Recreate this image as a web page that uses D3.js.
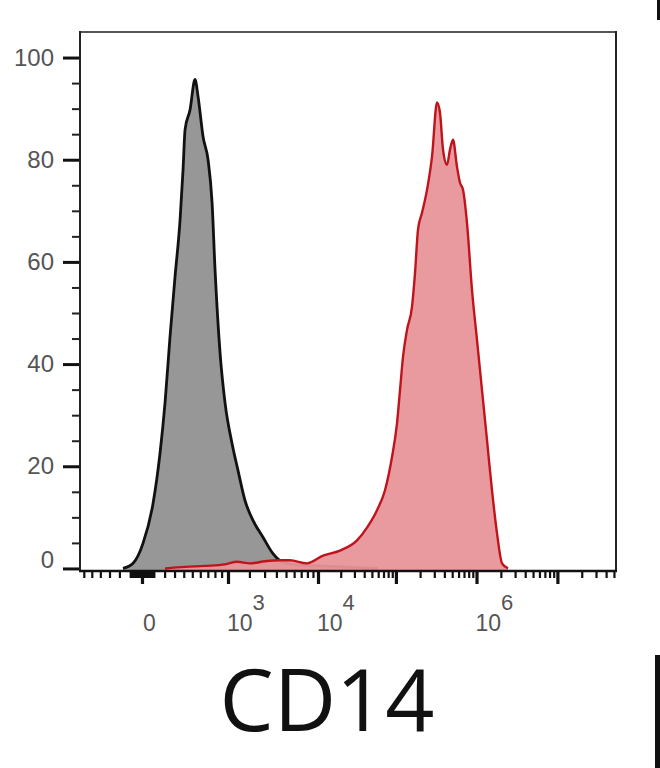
<!DOCTYPE html>
<html>
<head>
<meta charset="utf-8">
<script src="https://cdn.jsdelivr.net/npm/d3@7"></script>
<style>
  body { margin: 0; background: #fff; }
  svg { display: block; }
</style>
</head>
<body>
<div id="chart"></div>
<script>
// control (gray) histogram, x in fluorescence units, y in % of max
const grayX = [-166, -75, 8, 93, 156, 204, 253, 305, 359, 392,
  415, 473, 533, 571, 636, 703, 759, 802, 876, 953,
  1157, 1417, 1760, 2211, 2881, 3690, 4668, 5850, 14480, 40900, 60000];
const grayY = [0, 1.0, 4.9, 12.7, 22.5, 32.4, 45.3, 57.1, 68.2, 78.0,
  85.9, 89.8, 95.7, 92.4, 84.5, 80.0, 71.6, 58.4, 42.2, 32.4,
  24.5, 19.2, 13.3, 9.4, 6.1, 2.9, 1.2, 0.8, 0.4, 0.1, 0];

// CD14 stained (red) histogram
const redX = [204, 415, 662, 953, 1372, 2034, 3031, 4355, 5471, 7929,
  11682, 19570, 32380, 43360, 57960, 73030, 89360, 103200, 112500, 122600,
  137500, 158600, 172900, 188400, 211200, 243700, 281100, 324200, 353100, 384700,
  431200, 469700, 511700, 573500, 624700, 680500, 762600, 879400, 1014200, 1169400,
  1348000, 1554000, 1792000, 2067000, 2452000];
const redY = [0, 0.3, 0.5, 0.8, 1.3, 1.0, 1.4, 1.6, 1.6, 1.0,
  2.5, 3.5, 5.5, 8.0, 11.4, 15.3, 21.8, 28.4, 34.9, 41.4,
  46.7, 51.2, 57.8, 66.3, 69.6, 74.1, 80.6, 91.2, 89.2, 82.0,
  79.0, 82.0, 83.9, 78.6, 75.5, 74.1, 67.6, 54.5, 44.7, 34.9,
  25.1, 15.3, 6.9, 1.0, 0];

// axis ticks
const yMajor = [0, 20, 40, 60, 80, 100];
const xMajor = [0, 1e3, 1e4, 1e5, 1e6, 1e7];
const xLabels = [
  { v: 0, base: "0", exp: "" },
  { v: 1e3, base: "10", exp: "3" },
  { v: 1e4, base: "10", exp: "4" },
  { v: 1e6, base: "10", exp: "6" }
];
const axisTitle = "CD14";

const width = 660, height = 768;
const plot = { left: 80, right: 616, top: 32, bottom: 571 };

const svg = d3.select("#chart")
  .append("svg")
  .attr("width", width)
  .attr("height", height);

// biexponential-like display: piecewise symlog
const x = d3.scaleSymlog()
  .constant(1000)
  .domain([-650, 0, 1e3, 1e4, 5.3e7])
  .range([plot.left, 142, 228, 318, plot.right]);

const y = d3.scaleLinear()
  .domain([-0.5, 105])
  .range([plot.bottom, plot.top]);

const area = d3.area()
  .x(d => x(d[0]))
  .y0(y(-0.5))
  .y1(d => y(d[1]))
  .curve(d3.curveMonotoneX);

const line = d3.line()
  .x(d => x(d[0]))
  .y(d => y(d[1]))
  .curve(d3.curveMonotoneX);

const grayData = d3.zip(grayX, grayY);
const redData = d3.zip(redX, redY);

svg.append("path")
  .datum(grayData)
  .attr("d", area)
  .attr("fill", "#979797");
svg.append("path")
  .datum(grayData)
  .attr("d", line)
  .attr("fill", "none")
  .attr("stroke", "#111")
  .attr("stroke-width", 2.8)
  .attr("stroke-linejoin", "round");

svg.append("path")
  .datum(redData)
  .attr("d", area)
  .attr("fill", "#e8959a")
  .attr("fill-opacity", 0.95);
svg.append("path")
  .datum(redData)
  .attr("d", line)
  .attr("fill", "none")
  .attr("stroke", "#c0141c")
  .attr("stroke-width", 2.4)
  .attr("stroke-linejoin", "round");

// minor x ticks
const xMinor = [];
d3.range(-600, 0, 100).forEach(v => xMinor.push(v));
d3.range(-90, 0, 10).forEach(v => xMinor.push(v));
d3.range(10, 100, 10).forEach(v => xMinor.push(v));
d3.range(100, 1000, 100).forEach(v => xMinor.push(v));
[1e3, 1e4, 1e5, 1e6].forEach(p => d3.range(2, 10).forEach(m => xMinor.push(m * p)));
d3.range(2, 6).forEach(m => xMinor.push(m * 1e7));

const xMinorAxis = svg.append("g")
  .attr("transform", `translate(0, ${plot.bottom})`)
  .call(d3.axisBottom(x).tickValues(xMinor).tickSize(7).tickFormat(""));
xMinorAxis.select(".domain").remove();
xMinorAxis.selectAll("line").attr("stroke", "#111").attr("stroke-width", 2.2);

const xMajorAxis = svg.append("g")
  .attr("transform", `translate(0, ${plot.bottom})`)
  .call(d3.axisBottom(x).tickValues(xMajor).tickSize(13).tickFormat(""));
xMajorAxis.select(".domain").remove();
xMajorAxis.selectAll("line").attr("stroke", "#111").attr("stroke-width", 3.2);

// x tick labels with superscripts
const xl = svg.append("g")
  .attr("font-family", "Liberation Sans, Arial, sans-serif")
  .attr("fill", "#555");
xLabels.forEach(d => {
  const t = xl.append("text")
    .attr("x", x(d.v) + (d.exp ? -1 : 1))
    .attr("y", 631)
    .attr("font-size", 23)
    .text(d.base);
  if (d.exp) {
    t.append("tspan")
      .attr("dy", -21)
      .attr("font-size", 22)
      .text(d.exp);
  }
});

// y axis
const yMinor = d3.range(5, 105, 5).filter(v => v % 20 !== 0);
const yMinorAxis = svg.append("g")
  .attr("transform", `translate(${plot.left}, 0)`)
  .call(d3.axisLeft(y).tickValues(yMinor).tickSize(8).tickFormat(""));
yMinorAxis.select(".domain").remove();
yMinorAxis.selectAll("line").attr("stroke", "#222").attr("stroke-width", 2);

const yMajorAxis = svg.append("g")
  .attr("transform", `translate(${plot.left}, 0)`)
  .call(d3.axisLeft(y).tickValues(yMajor).tickSize(17).tickPadding(9));
yMajorAxis.select(".domain").remove();
yMajorAxis.selectAll("line").attr("stroke", "#111").attr("stroke-width", 3);
yMajorAxis.selectAll("text")
  .attr("font-family", "Liberation Sans, Arial, sans-serif")
  .attr("font-size", 24)
  .attr("fill", "#555")
  .attr("dy", d => d === 0 ? "-0.05em" : "0.32em");

// frame
svg.append("line")
  .attr("x1", plot.left).attr("x2", plot.right).attr("y1", plot.top).attr("y2", plot.top)
  .attr("stroke", "#555").attr("stroke-width", 2);
svg.append("line")
  .attr("x1", plot.right).attr("x2", plot.right).attr("y1", plot.top - 1).attr("y2", plot.bottom + 1)
  .attr("stroke", "#222").attr("stroke-width", 2);
svg.append("line")
  .attr("x1", plot.left).attr("x2", plot.left).attr("y1", plot.top - 1).attr("y2", plot.bottom + 1)
  .attr("stroke", "#222").attr("stroke-width", 2);
svg.append("line")
  .attr("x1", plot.left - 1).attr("x2", plot.right + 1).attr("y1", plot.bottom).attr("y2", plot.bottom)
  .attr("stroke", "#111").attr("stroke-width", 2.5);

// axis title
svg.append("text")
  .attr("x", 327)
  .attr("y", 731)
  .attr("text-anchor", "middle")
  .attr("font-family", "Open Sans, Noto Sans, sans-serif")
  .attr("font-size", 86)
  .attr("fill", "#111")
  .text(axisTitle);

// edges of neighbouring panels
svg.append("rect")
  .attr("x", 657).attr("y", 0).attr("width", 3).attr("height", 20)
  .attr("fill", "#111");
svg.append("rect")
  .attr("x", 655).attr("y", 655).attr("width", 5).attr("height", 113)
  .attr("fill", "#111");
</script>
</body>
</html>
